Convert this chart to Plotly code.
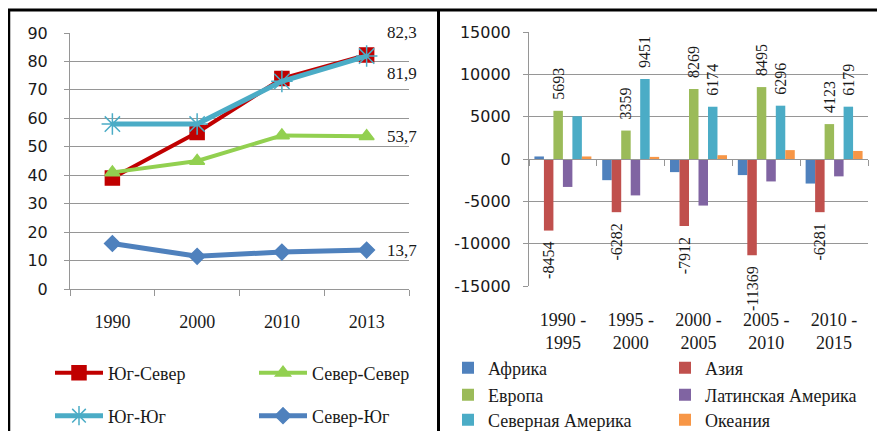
import plotly.graph_objects as go

# ---------- left chart data ----------
years = ["1990", "2000", "2010", "2013"]
south_north = [39, 55, 74, 82.3]
north_north = [41, 45, 54, 53.7]
south_south = [58, 58, 73, 81.9]
north_south = [16, 11.5, 13, 13.7]
left_yticks = [0, 10, 20, 30, 40, 50, 60, 70, 80, 90]

# ---------- right chart data ----------
periods = ["1990 -<br>1995", "1995 -<br>2000", "2000 -<br>2005", "2005 -<br>2010", "2010 -<br>2015"]
africa = [300, -2500, -1550, -1900, -2900]
asia = [-8454, -6282, -7912, -11369, -6281]
europe = [5693, 3359, 8269, 8495, 4123]
latam = [-3300, -4300, -5500, -2650, -2050]
n_america = [5050, 9451, 6174, 6296, 6179]
oceania = [300, 250, 450, 1050, 950]
n_america_labelled = [False, True, True, True, True]
right_yticks = [-15000, -10000, -5000, 0, 5000, 10000, 15000]
right_yticktext = ["-15000", "-10000", "-5000", "0", "5000", "10000", "15000"]

# page body has an 8px margin; figure is sized so that page == 885x431
OFF = 8
W, H = 885 - OFF, 431 - OFF
SERIF = "Liberation Serif"
SANS = "DejaVu Sans"
GRID = "#969696"
TXT = "#1a1a1a"

def px(x):
    return (x - OFF) / W

def py(y):
    return 1 - (y - OFF) / H

def fmt(v):
    return ("%g" % v).replace(".", ",")

PAD = "\u00a0\u00a0"

def bar_label(v):
    return (PAD + str(v)) if v >= 0 else (str(v) + PAD)

year_pos = list(range(len(years)))
year_bounds = [i - 0.5 for i in range(len(years) + 1)]

fig = go.Figure()

line_specs = [
    ("Юг-Север", south_north, "#C00000", "square", 14, 4, "legend"),
    ("Север-Север", north_north, "#92D050", "triangle-up", 13, 4, "legend"),
    ("Юг-Юг", south_south, "#4BACC6", "asterisk-open", 18, 5, "legend2"),
    ("Север-Юг", north_south, "#4F81BD", "diamond", 12, 5, "legend2"),
]
for name, vals, col, sym, msz, lw, lg in line_specs:
    fig.add_trace(go.Scatter(
        x=year_pos, y=vals, name=name, mode="lines+markers",
        line=dict(color=col, width=lw),
        marker=dict(symbol=sym, size=msz, color=col,
                    line=dict(color=col, width=1.5)),
        xaxis="x", yaxis="y", legend=lg, cliponaxis=False,
    ))

label_shift = {"Юг-Север": -22, "Север-Север": 0, "Юг-Юг": 17, "Север-Юг": 0}
for name, vals, col, sym, msz, lw, lg in line_specs:
    fig.add_annotation(
        x=year_pos[-1], y=vals[-1], xref="x", yref="y", text=fmt(vals[-1]),
        showarrow=False, xanchor="left", yanchor="middle",
        xshift=18, yshift=-label_shift[name],
        font=dict(family=SERIF, size=17, color=TXT),
    )

bar_specs = [
    ("Африка", africa, "#4F81BD", None, "legend3"),
    ("Азия", asia, "#C0504D", [bar_label(v) for v in asia], "legend3"),
    ("Европа", europe, "#9BBB59", [bar_label(v) for v in europe], "legend4"),
    ("Латинская Америка", latam, "#8064A2", None, "legend4"),
    ("Северная Америка", n_america, "#4BACC6",
     [bar_label(v) if f else "" for v, f in zip(n_america, n_america_labelled)], "legend5"),
    ("Океания", oceania, "#F79646", None, "legend5"),
]
for name, vals, col, txt, lg in bar_specs:
    kw = {}
    if txt is not None:
        kw = dict(text=txt, textposition="outside", textangle=-90,
                  constraintext="none",
                  outsidetextfont=dict(family=SERIF, size=16, color=TXT))
    fig.add_trace(go.Bar(
        x=periods, y=vals, name=name, marker=dict(color=col, line=dict(width=0)),
        xaxis="x2", yaxis="y2", legend=lg, cliponaxis=False, **kw,
    ))

legend_common = dict(orientation="h", xanchor="left", yanchor="middle",
                     bgcolor="rgba(0,0,0,0)", traceorder="normal",
                     font=dict(family=SERIF, size=18, color=TXT))

fig.update_layout(
    width=W, height=H,
    margin=dict(l=0, r=0, t=0, b=0, pad=0, autoexpand=False),
    paper_bgcolor="white", plot_bgcolor="white",
    barmode="group", bargap=0.16, bargroupgap=0,
    xaxis=dict(domain=[px(70), px(409)], anchor="y", type="linear",
               range=[year_bounds[0], year_bounds[-1]],
               tickvals=year_pos, ticktext=years, ticks="",
               minor=dict(tickvals=year_bounds, ticks="outside", ticklen=6,
                          tickcolor=GRID, showgrid=False),
               showgrid=False, zeroline=False, showline=True, linecolor=GRID,
               linewidth=1, ticklabelstandoff=16, automargin=False,
               tickfont=dict(family=SERIF, size=18, color=TXT)),
    yaxis=dict(domain=[py(289), py(33)], anchor="x", range=[0, 90],
               tickvals=left_yticks, showgrid=True, gridcolor=GRID, gridwidth=1,
               zeroline=False, showline=True, linecolor=GRID, linewidth=1,
               ticks="outside", ticklen=5, tickcolor=GRID,
               ticklabelstandoff=13, automargin=False,
               tickfont=dict(family=SANS, size=16, color=TXT)),
    xaxis2=dict(domain=[px(529), px(868)], anchor="free",
                position=(py(286) + py(32)) / 2,
                type="category", showgrid=False, showline=True, linecolor=GRID,
                linewidth=1, ticks="outside", tickson="boundaries", ticklen=6,
                tickcolor=GRID, ticklabelstandoff=144, automargin=False,
                tickfont=dict(family=SERIF, size=18, color=TXT)),
    yaxis2=dict(domain=[py(286), py(32)], anchor="x2", range=[-15000, 15000],
                tickvals=right_yticks, ticktext=right_yticktext,
                showgrid=True, gridcolor=GRID, gridwidth=1, zeroline=False,
                showline=True, linecolor=GRID, linewidth=1,
                ticks="outside", ticklen=5, tickcolor=GRID,
                ticklabelstandoff=9, automargin=False,
                tickfont=dict(family=SANS, size=16, color=TXT)),
    legend=dict(x=px(50), y=py(373), entrywidth=141, itemwidth=48, **legend_common),
    legend2=dict(x=px(50), y=py(416), entrywidth=141, itemwidth=48, **legend_common),
    legend3=dict(x=px(448), y=py(368), entrywidth=172, **legend_common),
    legend4=dict(x=px(448), y=py(395), entrywidth=172, **legend_common),
    legend5=dict(x=px(448), y=py(420), entrywidth=172, **legend_common),
    showlegend=True,
    shapes=[
        dict(type="line", xref="paper", yref="paper", x0=0, x1=1,
             y0=py(10), y1=py(10), line=dict(color="black", width=3)),
        dict(type="line", xref="paper", yref="paper", x0=px(9), x1=px(9),
             y0=0, y1=py(10), line=dict(color="black", width=2.5)),
        dict(type="line", xref="paper", yref="paper", x0=px(438.5), x1=px(438.5),
             y0=0, y1=py(10), line=dict(color="black", width=3)),
    ],
)

fig.write_html("out.html")
